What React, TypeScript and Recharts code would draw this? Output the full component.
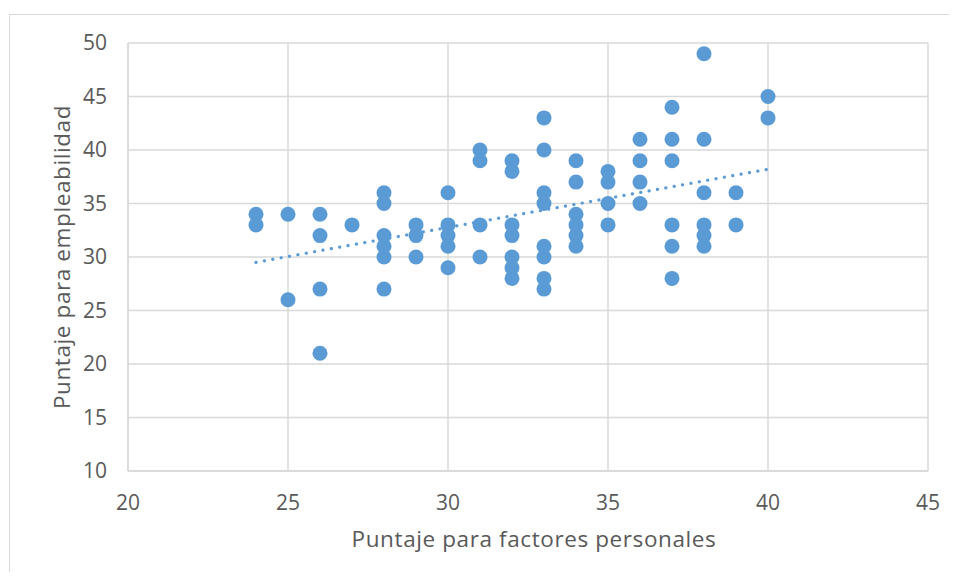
import React from 'react';
import {
  ScatterChart,
  Scatter,
  XAxis,
  YAxis,
  CartesianGrid,
} from 'recharts';

// Scores: factores personales (x) and empleabilidad (y)
const xScores = [
  24, 24,
  25, 25,
  26, 26, 26, 26,
  27,
  28, 28, 28, 28, 28, 28,
  29, 29, 29,
  30, 30, 30, 30, 30,
  31, 31, 31, 31,
  32, 32, 32, 32, 32, 32, 32,
  33, 33, 33, 33, 33, 33, 33, 33,
  34, 34, 34, 34, 34, 34,
  35, 35, 35, 35,
  36, 36, 36, 36,
  37, 37, 37, 37, 37, 37,
  38, 38, 38, 38, 38, 38,
  39, 39,
  40, 40,
];
const yScores = [
  34, 33,
  34, 26,
  34, 32, 27, 21,
  33,
  36, 35, 32, 31, 30, 27,
  33, 32, 30,
  36, 33, 32, 31, 29,
  40, 39, 33, 30,
  39, 38, 33, 32, 30, 29, 28,
  43, 40, 36, 35, 31, 30, 28, 27,
  39, 37, 34, 33, 32, 31,
  38, 37, 35, 33,
  41, 39, 37, 35,
  44, 41, 39, 33, 31, 28,
  49, 41, 36, 33, 32, 31,
  36, 33,
  45, 43,
];

// Linear trend line endpoints
const trendX = [24, 40];
const trendY = [29.5, 38.2];

const xTicks = [20, 25, 30, 35, 40, 45];
const yTicks = [10, 15, 20, 25, 30, 35, 40, 45, 50];

const points = xScores.map((x, i) => ({ x, y: yScores[i] }));
const trend = trendX.map((x, i) => ({ x, y: trendY[i] }));

const FONT = '"Open Sans", "Noto Sans", sans-serif';
const TEXT = '#595959';
const GRID = '#d9d9d9';
const BLUE = '#5B9BD5';

const Dot = (props: any) => {
  const { cx, cy } = props;
  if (cx == null || cy == null) return null;
  return <circle cx={cx} cy={cy} r={7.5} fill={BLUE} />;
};

export default function App() {
  return (
    <div
      style={{
        position: 'relative',
        width: 957,
        height: 580,
        margin: -8,
        overflow: 'hidden',
        background: '#fff',
      }}
    >
      <div
        style={{
          position: 'absolute',
          left: 9,
          top: 14,
          width: 948,
          height: 1,
          background: GRID,
        }}
      />
      <div
        style={{
          position: 'absolute',
          left: 9,
          top: 14,
          width: 1,
          height: 566,
          background: GRID,
        }}
      />
      <div style={{ position: 'absolute', left: 0, top: 0 }}>
        <ScatterChart
          width={957}
          height={580}
          margin={{ top: 43, right: 29, left: 0, bottom: 0 }}
          style={{ fontFamily: FONT }}
        >
          <CartesianGrid stroke={GRID} strokeWidth={1.5} />
          <XAxis
            type="number"
            dataKey="x"
            domain={[20, 45]}
            ticks={xTicks}
            allowDataOverflow
            height={109}
            axisLine={{ stroke: GRID, strokeWidth: 1.5 }}
            tickLine={false}
            tickSize={6}
            tickMargin={18}
            tick={{ fill: TEXT, fontSize: 21, fontFamily: FONT }}
            label={{
              value: 'Puntaje para factores personales',
              position: 'center',
              dx: 6,
              dy: 14,
              fill: TEXT,
              fontSize: 22.5,
              letterSpacing: 0.6,
              fontFamily: FONT,
            }}
          />
          <YAxis
            type="number"
            dataKey="y"
            domain={[10, 50]}
            ticks={yTicks}
            allowDataOverflow
            width={128}
            axisLine={{ stroke: GRID, strokeWidth: 1.5 }}
            tickLine={false}
            tickSize={6}
            tickMargin={15}
            tick={{ fill: TEXT, fontSize: 21, fontFamily: FONT }}
            label={{
              value: 'Puntaje para empleabilidad',
              angle: -90,
              position: 'center',
              dx: -2,
              fill: TEXT,
              fontSize: 22.5,
              letterSpacing: 0.6,
              fontFamily: FONT,
            }}
          />
          <Scatter
            data={points}
            shape={<Dot />}
            isAnimationActive={false}
          />
          <Scatter
            data={trend}
            shape={() => null}
            line={{
              stroke: BLUE,
              strokeWidth: 3.2,
              strokeDasharray: '0.1 8.4',
              strokeLinecap: 'round',
            }}
            isAnimationActive={false}
          />
        </ScatterChart>
      </div>
    </div>
  );
}
